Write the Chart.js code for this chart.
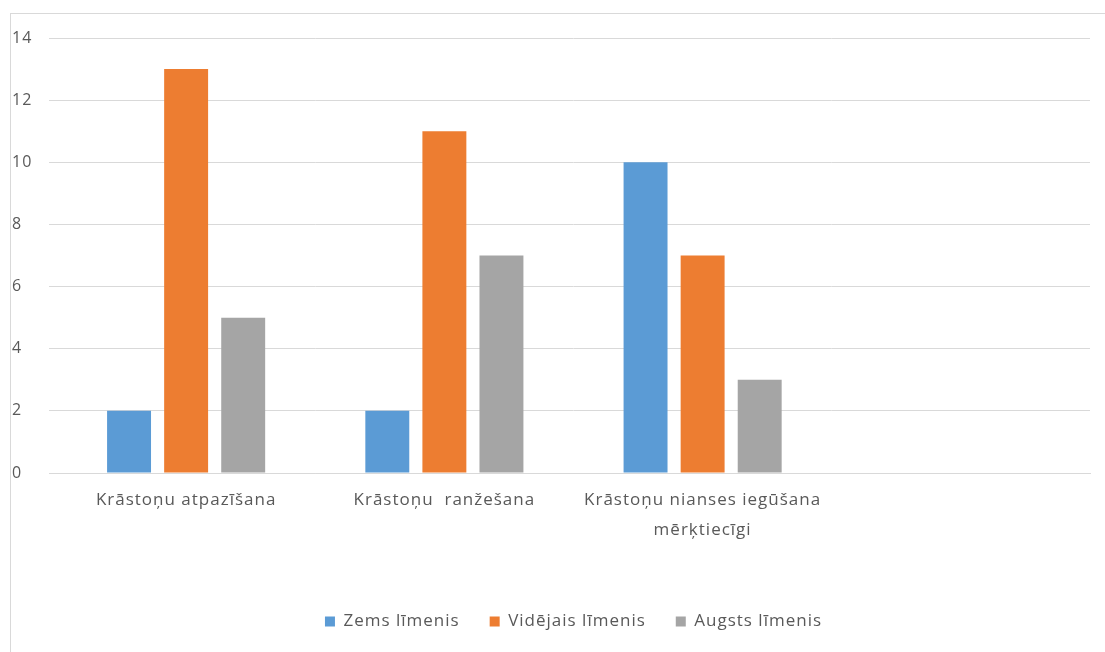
<!DOCTYPE html>
<html>
<head>
<meta charset="utf-8">
<script src="https://cdn.jsdelivr.net/npm/chart.js@4"></script>
<style>
  body { margin: 0; background: #fff; }
  #wrap { position: relative; width: 1105px; height: 652px; }
  #frame { position: absolute; left: 10px; top: 13px; right: -2px; bottom: -2px; border-left: 1px solid #d9d9d9; border-top: 1px solid #d9d9d9; }
  #myChart { position: absolute; left: 0; top: 0; }
</style>
</head>
<body>
<div id="wrap">
  <div id="frame"></div>
  <canvas id="myChart" width="1105" height="652"></canvas>
</div>
<script>
// kategorijas un dati
var kategorijas = ['Krāstoņu atpazīšana', 'Krāstoņu  ranžešana', ['Krāstoņu nianses iegūšana', 'mērķtiecīgi'], ''];
var zems = [2, 2, 10, null];
var videjais = [13, 11, 7, null];
var augsts = [5, 7, 3, null];
var yTicks = [0, 2, 4, 6, 8, 10, 12, 14];

var fonts = '"Open Sans", "DejaVu Sans", sans-serif';

// nedaudz platāks burtu atstatums, lai teksts izskatās kā oriģinālā
var spacing = {
  id: 'spacing',
  beforeLayout: function (chart) { chart.ctx.letterSpacing = '1px'; },
  beforeDraw: function (chart) { chart.ctx.letterSpacing = '1px'; }
};

var ctx = document.getElementById('myChart').getContext('2d');
var myChart = new Chart(ctx, {
  type: 'bar',
  data: {
    labels: kategorijas,
    datasets: [{
      label: 'Zems līmenis',
      data: zems,
      backgroundColor: '#5b9bd5'
    }, {
      label: 'Vidējais līmenis',
      data: videjais,
      backgroundColor: '#ed7d31'
    }, {
      label: 'Augsts līmenis',
      data: augsts,
      backgroundColor: '#a5a5a5'
    }]
  },
  plugins: [spacing],
  options: {
    responsive: false,
    animation: false,
    datasets: { bar: { categoryPercentage: 0.663, barPercentage: 0.77 } },
    layout: { padding: { left: 12, right: 15, top: 38, bottom: 12 } },
    plugins: {
      legend: {
        position: 'bottom',
        fullSize: false,
        labels: {
          boxWidth: 10, boxHeight: 10, padding: 30,
          color: '#595959',
          font: { family: fonts, size: 17 }
        }
      },
      tooltip: { enabled: false }
    },
    scales: {
      x: {
        grid: { display: false },
        border: { color: '#d9d9d9' },
        ticks: {
          color: '#595959', autoSkip: false, maxRotation: 0, padding: 4,
          font: { family: fonts, size: 17, lineHeight: '30px' }
        },
        afterFit: function (axis) { axis.height = 110; }
      },
      y: {
        min: 0, max: 14,
        afterBuildTicks: function (axis) { axis.ticks = yTicks.map(function (v) { return { value: v }; }); },
        grid: { color: '#d9d9d9' },
        border: { display: false },
        ticks: {
          color: '#595959', crossAlign: 'far', padding: 8,
          font: { family: fonts, size: 16 }
        },
        afterFit: function (axis) { axis.width = 45; }
      }
    }
  }
});
</script>
</body>
</html>
